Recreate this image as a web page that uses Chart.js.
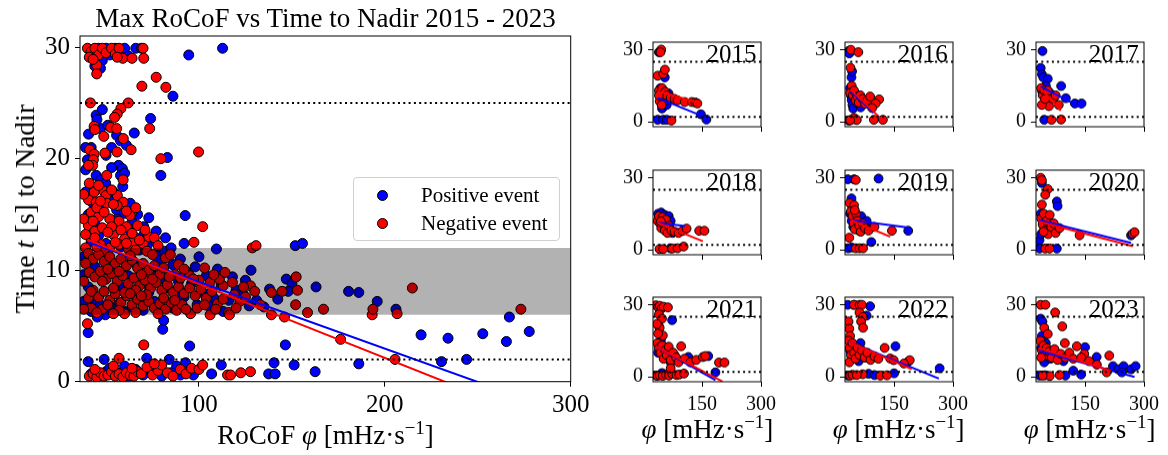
<!DOCTYPE html>
<html>
<head>
<meta charset="utf-8">
<script src="https://cdn.jsdelivr.net/npm/chart.js@4.4.1/dist/chart.umd.min.js"></script>
<style>
  body { margin: 0; background: #fff; width: 1168px; height: 455px; position: relative; overflow: hidden;
         font-family: "Liberation Serif", serif; color: #000; }
  canvas { position: absolute; }
  .lbl { position: absolute; white-space: nowrap; line-height: 1; }
  .legend { position: absolute; left: 353px; top: 177px; width: 205px; height: 62px; border: 1px solid #d0d0d0;
            border-radius: 4px; background: rgba(255,255,255,0.8); font-size: 21px; }
  .legend .row { position: absolute; left: 0; height: 24px; line-height: 24px; }
  .legend .dot { position: absolute; left: 23px; top: 7px; width: 9px; height: 9px; border: 1px solid #000; border-radius: 50%; }
  .legend .txt { position: absolute; left: 67px; top: 0; white-space: nowrap; }
</style>
</head>
<body>

<div class="lbl" id="title" style="left:80px;width:491px;text-align:center;top:5px;font-size:27px;">Max RoCoF vs Time to Nadir 2015 - 2023</div>
<div class="lbl" style="left:25px;top:209px;font-size:28px;transform:translate(-50%,-50%) rotate(-90deg);">Time <i>t</i> [s] to Nadir</div>
<div class="lbl" style="left:80px;width:491px;text-align:center;top:419px;font-size:27px;">RoCoF <i>φ</i> [mHz·s<sup style="font-size:0.7em;vertical-align:0.55em;">−1</sup>]</div>

<div class="legend">
  <div class="row" style="top:5px;width:100%;"><span class="dot" style="background:#0000ff"></span><span class="txt">Positive event</span></div>
  <div class="row" style="top:33px;width:100%;"><span class="dot" style="background:#ff0000"></span><span class="txt">Negative event</span></div>
</div>

<script>
// ---- main plot data (RoCoF mHz/s, time to nadir s) ----
const mainPos = [
  [41,29.8],[43,29.5],[46,29.9],[48,28.8],[50,29.9],[52,29.3],[55,29.9],[58,29.6],[60,29.9],[62,29.2],[66,29.9],[69,29.9],
  [94.5,29.3],[112.7,29.9],[44,28.3],[47,28.1],
  [86,25.6],[74,23.6],[65.2,22.3],[83,20.1],[79.5,18.5],[40.6,22.2],[44.7,23.9],[45.1,23.5],[47,22.7],[55.7,22.1],
  [57.8,21.6],[61,21.2],[40,19.9],[41.6,17.5],[56.8,19.4],[58.8,19.1],[57.8,18.5],[44.7,18.5],[47.2,18.1],[49.8,17.8],
  [59,17.5],[53,19.2],[50,20.3],[42,21],[48,24.4],[51,23],[53,21],[60,18.7],[39,17],[39,19],[39,21],
  [55.7,15.4],[59.8,15.1],[64,14.3],[70.3,13.9],[70.7,13.3],[75.8,12.6],[92.6,14.9],[40.5,15],[44,14.2],[48,15.8],
  [52,16.6],[56,14.6],[62,13.7],[66,12.9],[46,13.1],[50,12.4],[58,12.1],[68,11.8],[72,12.2],[78,11.5],[81.5,11.7],
  [109.4,11.9],[151.8,12.2],[155.7,12.4],[42,12.6],[43,16],[54,17],[63,16],[67,15],[73,14.7],[77,13.5],[82,12.9],
  [85,12],[92,12.4],[100,11.2],
  [40.5,8.5],[42,6.3],[44,7.2],[47,6.9],[49.6,6.0],[45.3,5.8],[53,6.6],[57,7.0],[60,6.3],[64,6.7],[67,7.5],[70,6.4],
  [73,8.0],[76,7.2],[80,9.2],[83,8.4],[86,6.6],[89,9.0],[92,7.6],[96,8.8],[99,6.9],[102,8.0],[104,9.5],[108,7.5],
  [112,8.6],[116,7.3],[120,8.2],[123.6,7.9],[127,6.8],[131,7.3],[135,6.7],[142.4,7.4],[147,9.2],[150,8.8],[148,8.1],
  [163,8.5],[180.5,8.1],[186,8.0],[195.9,7.2],[206,6.5],[86,10.5],[90,11.0],[94,9.8],[98,10.3],[110,10.1],[78,10.9],
  [74,10.0],[66,10.6],[62,9.5],[55,9.8],[50,10.9],[44,10.3],[70,8.8],[58,8.5],[38,11.2],[38,9.6],[38,7.2],
  [88,7.9],[105,6.8],[113,6.3],[118,9.4],[125,9.1],[138,8.3],[128,10],
  [40.4,4.4],[219.5,4.2],[234,3.9],[252.7,4.3],[265.4,3.6],[267,5.8],[277.7,4.5],[146.5,3.3],[95,3.2],[80.5,4.7],[81,5.5],
  [40.4,1.8],[49,2.0],[71.9,2.1],[84,2.0],[88,1.4],[92.8,1.7],[97,0.6],[106.8,0.7],[112,1.5],[137.5,0.7],[140.4,1.7],
  [141,0.7],[151.2,1.5],[162.5,0.9],[186,1.6],[230.5,1.8],[244,2.0],[42,0.7],[46,0.5],[50,0.9],[54,0.6],[58,0.8],
  [62,0.5],[66,1.1],[70,0.6],[75,0.9],[80,0.5],[85,0.8],[90,0.6],[60,1.4],[52,1.2]
];
const mainNeg = [
  [40,29.9],[42,29.6],[44,29.9],[46,29.3],[48,29.9],[50,29.5],[53,29.9],[55,29.4],[57,29.9],[59,29.0],[41,29.1],
  [45,28.4],[45,27.6],[43,28.9],[56,29.1],[64,29.0],[69.9,29.9],[70.3,29.0],[77,27.3],[82.2,26.4],[69.3,26.5],
  [41.6,25.0],[62,25.0],[58,24.5],[56,24.0],[54.6,23.7],[52.5,22.8],[55.7,22.7],[59.3,21.8],[48.8,22.0],[43.6,22.9],
  [44,22.6],[63.5,20.8],[55.9,20.6],[41.2,20.8],[43.6,20.4],[49.4,20.5],[43.2,19.9],[42.8,19.4],[40.6,19.4],
  [99.8,20.6],[79.5,20.0],[73.5,22.7],
  [50.4,18.5],[59.2,18.1],[48.7,17.1],[50,16.7],[43.6,17],[56.1,16.7],[40.6,16.3],[44.7,16.1],[50.4,16],[59.2,16.1],
  [64,15.2],[42,15.2],[46,14.8],[52,14.6],[57,14.4],[61,13.9],[67,14.0],[40.5,14.0],[44,13.5],[48,13.8],[54,13.2],
  [60,12.8],[65,12.6],[70,12.4],[102,13.9],[97.3,12.5],[128.7,12.0],[130.7,12.2],[42,12.8],[47,12.3],[52,12.0],
  [57,12.3],[62,11.9],[68,12.7],[73,13.0],[56,15.8],[39,13.2],[45,15.6],[63,14.9],[53,13.9],[49,15.2],
  [38,16.8],[41,17.8],[46,17.6],[53,17.2],[47,16.2],[54,15.9],[61,15.3],[66,15.6],[38,14.6],[43,14.4],[51,13.4],
  [58,13.6],[64,13.3],[71,13.6],[76,12.9],[39,12],[44,12.9],[49,11.8],[55,12.5],[61,12.4],[66,11.8],[72,11.7],
  [78,12.2],[82,11.1],
  [40.5,11.5],[43,11.0],[46,11.4],[49,10.8],[52,11.2],[55,10.6],[58,11.0],[61,10.4],[64,10.9],[67,10.2],[70,10.6],
  [73,10.0],[76,10.4],[79,9.6],[84.6,11.4],[89,10.5],[41,9.8],[44,9.4],[47,9.9],[50,9.2],[53,9.7],[56,9.0],[59,9.5],
  [62,8.8],[65,9.3],[68,8.6],[71,9.1],[74,8.4],[77,8.9],[80,8.2],[83,8.7],[86,8.0],[89,8.5],[92,7.9],[95,8.4],
  [98,7.7],[101,8.3],[104,7.5],[107,8.1],[110,7.0],[113,8.6],[116,6.2],[40.5,7.5],[43,8.2],[46,7.6],[49,8.1],
  [52,7.3],[55,7.9],[58,7.1],[61,7.7],[64,6.9],[67,7.4],[70,6.8],[73,7.2],[76,6.6],[79,7.0],[82,6.5],[85,7.1],
  [88,6.4],[91,6.9],[95.5,6.1],[106,6.0],[116.4,6.0],[139,6.0],[146,5.8],[127.7,8.6],[139,8.0],[144.7,8.1],
  [152.3,9.4],[153,8.2],[152,6.9],[158.4,6.2],[167,6.5],[193.2,6.0],[193.6,6.5],[206.6,6.1],[214.8,8.4],[273.2,6.5],
  [122,7.2],[119,7.8],[133,6.9],[100,9.1],[95,9.5],[106,8.9],[111,9.2],[48,6.5],[42,6.6],[60,6.1],[40,5.2],
  [39,10.6],[45,12.1],[51,10.1],[57,9.9],[63,11.3],[69,9.6],[75,11.4],[81,10.2],[54,8.4],[60,8.0],[66,8.2],[72,7.8],
  [87,9.6],[92,10.1],[97,9.2],[103,10.2],[108,9.6],[114,9.8],[118,8.9],[124,8.5],[38,9],[42,8.1],[48,9.0],[51,6.9],
  [57,6.4],[63,7.9],[69,7.7],[75,9.2],[81,7.5],[87,7.3],[93,6.5],[99,6.6],[103,6.9],[109,6.5],[113,7.4],[120,6.6],
  [125,7.6],[130,8.1],[38,6.5],[45,6.2],[54,6.1],[66,6.2],[78,6.1],[84,9.4],[90,9.3],
  [176.2,3.8],[205.5,2.0],[70.3,3.3],
  [57,2.1],[41,0.5],[43,0.7],[45,0.4],[47,0.8],[49,0.5],[51,0.6],[53,0.9],[55,0.5],[57,0.7],[59,0.4],[61,0.8],
  [63,0.6],[65,0.5],[67,0.9],[69,0.7],[72,1.3],[75,0.6],[78,1.0],[80,1.5],[83,0.8],[86,0.5],[90,1.1],[93,0.7],
  [96,1.2],[100,1.1],[102,1.5],[115.4,0.6],[117,0.6],[122.5,0.8],[127.7,0.9],[76,1.6],[64,1.2],[44,1.1],[54,1.4]
];
const mainPosFit = [[40.6,12.5],[278,-1.7]];
const mainNegFit = [[40.6,12.7],[273,-2.7]];

const refLines = [2, 25];
const bandRange = [6, 12];
const mainXRange = [36, 300];
const mainYRange = [0, 31];
const mainXTicks = [100, 200, 300];
const mainYTicks = [0, 10, 20, 30];

// ---- per-year data ----
const years = [2015, 2016, 2017, 2018, 2019, 2020, 2021, 2022, 2023];
const smallXRange = [25, 300];
const smallYRange = [-2.1, 33.2];
const smallXTicks = [150, 300];
const smallYTicks = [0, 30];

const pos2015 = [[40,29],[55,18.5],[42,12],[46,10],[50,8],[53,6.5],[48,5.5],[60,7],[64.5,11.8],[58,9],[44,14],[147,3.1],[161,0.9],[37,0.8],[51,0.8],[60,0.8]];
const neg2015 = [[46,30.1],[44,29],[37,19.2],[51,20],[55.3,21.7],[40,13],[44,11.5],[48,14],[52,9.5],[56,12.5],[42,8.5],[47,7],[60,11],[70,10],[80,9.5],[87.5,8.9],[106,8.2],[124,8.2],[133,8.0],[138,7.6],[72,0.5],[40,11]];
const pos2016 = [[34,29.5],[36,28.5],[41.5,18.5],[43,21],[38,14],[40,11],[42,9],[44,7],[46,5.5],[50,12],[55,8],[60,10],[65,6],[34,0.5],[40,0.7],[52,1.0]];
const neg2016 = [[40,30],[59,29],[39,22.5],[42,15],[38,12],[45,11],[48,13],[52,9],[56,10.5],[60,8],[64,11],[70,9.5],[76,7.5],[82,9],[89,10.5],[112,9.3],[103,7.6],[94,5.7],[121.5,0.8],[98.5,0.8],[48,1.5],[55,0.7],[38,0.6]];
const pos2017 = [[41.5,29.5],[37,22.4],[40,19.8],[43.5,18.5],[55,17.9],[89,14.9],[101,9.8],[124,7.6],[141,7.6],[40,13],[45,11],[50,15],[60,12],[70,10],[46,0.8]];
const neg2017 = [[38,14],[42,11],[46,13],[50,8],[54,12],[58,6.5],[62,10],[69,9.5],[75,11],[83,7],[40,7],[48,9.5],[64.5,0.8],[89,0.9],[55,13]];
const pos2018 = [[38,15],[42,14],[46,15.5],[50,13],[55,14.5],[60,12],[65,14],[58,11],[44,11],[70,12],[69,0.6],[75,7]];
const neg2018 = [[37,12],[40,14],[43,11],[46,9],[49,13.5],[52,10.5],[55,8],[58,12.5],[62,7],[66,10],[72,8],[80,7.5],[90,7],[100,7.8],[110.5,8.8],[142.6,7.9],[156,7.9],[41.5,0.3],[51,0.3],[73.7,0.5],[87.5,0.6],[103,1.3],[45,11.8]];
const pos2019 = [[32,29.4],[48,29.4],[110.5,29.7],[41.5,21.4],[43,18.2],[38,15],[42,12],[46,9.5],[50,13],[55,11],[60,8],[66,14],[72,10],[80,12],[88,9],[186,7.9],[92,3.2],[33,0.6],[42,0.9]];
const neg2019 = [[52.6,29.1],[37,19.5],[48,18.6],[40,16],[44,14],[47,11],[50,8.5],[53,15],[57,12],[61,10],[65,7.5],[70,11],[76,9],[85,8],[100,9.5],[144.5,7.9],[36,5],[52.6,0.6],[61.8,0.6],[71,0.6],[50,16.5]];
const pos2020 = [[40,27.8],[78,20.1],[80,18.2],[37,15],[42,12],[46,9],[50,14],[55,7],[60,11],[66,8.5],[72,10],[34,4],[38,6.5],[267,6],[34,0.5],[78,0.5],[44,13.5]];
const neg2020 = [[37,30],[40,29],[55,25.3],[48.5,22.9],[40,18.8],[38,13],[42,10.5],[45,15],[48,8],[52,12],[56,6.5],[60,14.5],[64,9.5],[70,11],[75,7],[85,9],[136,6],[271,6.7],[276,7.3],[48.5,0.5],[59.5,0.5],[44,7.5]];
const pos2021 = [[40,21],[45,15],[38,10],[50,12],[55,8],[62,11],[70,6],[73.7,23.6],[115,8.2],[165.6,8.6],[184,1.8],[80,9],[33,0.5],[60,0.9],[48,1.5]];
const neg2021 = [[33,29.8],[38,29],[42,29.6],[47,28.5],[52,29.2],[63,28.9],[40,26],[48,24.2],[42,20.4],[50,17.2],[35,22],[38,18],[36,14],[40,12],[44,10],[48,13],[52,7.5],[56,11],[60,9],[65,12.5],[70,7],[76,10],[84,8],[90,6],[96.7,12.7],[105,7.5],[120,6],[135,7],[152,8.2],[158,8.6],[193,5.9],[207,5.9],[36,0.4],[42,0.6],[50,0.4],[58,0.8],[66,0.5],[74,1.2],[85,0.7],[92,0.9],[104,1.3],[70,3.5]];
const pos2022 = [[32,30],[48,30],[89,29.4],[80,25.5],[64.5,14],[38,11],[42,8],[48,12.5],[55,9],[60,6.5],[70,10.5],[78,8],[153.6,12.7],[186,6.3],[266,3.5],[32,0.5],[85,1.2],[150,1.4],[100,0.7]];
const neg2022 = [[48,30],[62,30],[68,30],[62,26.8],[71,24.9],[66,23],[71,20.4],[34,23],[36,20],[38,17],[34,15],[37,12],[40,9],[36,6],[44,14],[48,10],[52,7.5],[57,12],[62,9],[68,11],[75,8],[82,10],[90,7],[100,8.5],[110,7.5],[126,12],[140,7.6],[149,6.9],[190,6.9],[175,5.5],[38,0.5],[44,0.8],[70,1.0],[115,0.5],[132,0.6],[55,0.7]];
const pos2023 = [[37,24.2],[41.5,23],[40,17],[38,12],[42,9],[46,6],[50,14],[55,10],[62,7.5],[70,11],[80,9],[95,6.5],[150,12.3],[179.5,8.2],[221,4.4],[234.5,3.1],[248,4.4],[267,3.1],[278.7,4.4],[243.6,1.8],[34,0.5],[48,0.6],[100,0.5],[140,0.9],[120,2.5]];
const neg2023 = [[37,30],[49,30],[73.7,26.8],[46,20.4],[55,17.8],[92,21],[98.5,14],[129,12.7],[147.8,9.5],[211.6,8.8],[205,1.8],[36,15],[40,11],[44,13],[48,9],[52,12],[58,10.5],[65,8],[72,11.5],[80,7],[88,9.5],[100,8],[110,10],[120,7.5],[140,8],[160,6.5],[180,5],[60,0.3],[42,0.5],[85,0.7],[38,8]];

// fit lines per year: [[x0,y0],[x1,y1]]
const posFits = [
  [[37,9.9],[147,2.6]], [[39,12.7],[98,3.7]], [[37,14.7],[142,5.7]],
  [[37,11.2],[106,9.9]], [[39,12.4],[186,9.2]], [[32,12.4],[267,2.8]],
  [[32,12.7],[184,-1.4]], [[34,14.6],[264,-0.8]], [[32,10.8],[276,-0.1]]
];
const negFits = [
  [[37,12.7],[142,7.9]], [[39,13.4],[117,1.2]], [[36,14],[88,4.6]],
  [[37,11.2],[152,3.5]], [[39,12.4],[140,5.4]], [[32,11.8],[271,1.5]],
  [[32,12.7],[202,-2]], [[34,14.6],[195,3.1]], [[32,12],[216,2.4]]
];

const posByYear = [pos2015, pos2016, pos2017, pos2018, pos2019, pos2020, pos2021, pos2022, pos2023];
const negByYear = [neg2015, neg2016, neg2017, neg2018, neg2019, neg2020, neg2021, neg2022, neg2023];

// ---- drawing ----
const FONT = "'Liberation Serif', serif";
const BLUE = '#0000ff', RED = '#ff0000';
const toPts = a => a.map(p => ({ x: p[0], y: p[1] }));

const framePlugin = {
  id: 'frame',
  afterDraw(chart) {
    const a = chart.chartArea, g = chart.ctx;
    g.save();
    g.strokeStyle = '#000';
    g.lineWidth = 1;
    g.strokeRect(a.left, a.top, a.right - a.left, a.bottom - a.top);
    g.restore();
  }
};

function scatterSet(data, color, r, order) {
  return { data: toPts(data), backgroundColor: color, borderColor: '#000', borderWidth: 1,
           pointRadius: r, order: order };
}
function lineSet(data, color, order) {
  return { data: toPts(data), showLine: true, borderColor: color, borderWidth: 2,
           pointRadius: 0, order: order };
}
function dotted(y, xr) {
  return { data: [{ x: xr[0], y: y }, { x: xr[1], y: y }], showLine: true, borderColor: '#000',
           borderWidth: 2, borderDash: [2, 3.3], pointRadius: 0, order: 0 };
}

function axes(xr, yr, xt, yt, yw, xh, size, showX, tickPad) {
  const grid = { drawOnChartArea: false, drawTicks: true, tickLength: 5, color: '#000', lineWidth: 1 };
  return {
    x: { type: 'linear', min: xr[0], max: xr[1], border: { display: false }, grid: grid,
         afterBuildTicks: s => { s.ticks = xt.map(v => ({ value: v })); },
         afterFit: s => { s.height = xh; },
         ticks: { color: '#000', font: { family: FONT, size: size }, padding: tickPad, maxRotation: 0,
                  autoSkip: false, callback: v => showX ? String(v) : '' } },
    y: { type: 'linear', min: yr[0], max: yr[1], border: { display: false }, grid: grid,
         afterBuildTicks: s => { s.ticks = yt.map(v => ({ value: v })); },
         afterFit: s => { s.width = yw; },
         ticks: { color: '#000', font: { family: FONT, size: size }, padding: 5, autoSkip: false,
                  callback: v => String(v) } }
  };
}

function makeCanvas(left, top, w, h) {
  const c = document.createElement('canvas');
  c.width = w; c.height = h;
  c.style.left = left + 'px'; c.style.top = top + 'px';
  c.style.width = w + 'px'; c.style.height = h + 'px';
  document.body.insertBefore(c, document.body.firstChild);
  return c;
}

function addLabel(html, css) {
  const d = document.createElement('div');
  d.className = 'lbl';
  d.innerHTML = html;
  d.style.cssText += css;
  document.body.appendChild(d);
}

// main chart: plot area 80..570.7 x 36..381.7
(function () {
  const c = makeCanvas(0, 0, 620, 455);
  const datasets = [
    scatterSet(mainPos, BLUE, 5, 5),
    scatterSet(mainNeg, RED, 5, 4),
    { data: [{ x: mainXRange[0], y: bandRange[1] }, { x: mainXRange[1], y: bandRange[1] }], showLine: true,
      borderWidth: 0, borderColor: 'rgba(0,0,0,0)', pointRadius: 0, fill: { value: bandRange[0] },
      backgroundColor: 'rgba(0,0,0,0.3)', order: 3 },
    lineSet(mainPosFit, BLUE, 2),
    lineSet(mainNegFit, RED, 1),
    dotted(refLines[0], mainXRange),
    dotted(refLines[1], mainXRange)
  ];
  new Chart(c.getContext('2d'), {
    type: 'scatter',
    data: { datasets: datasets },
    options: {
      animation: false, responsive: false, events: [],
      layout: { padding: { left: 30, top: 36, right: 49.3, bottom: 33.3 } },
      plugins: { legend: { display: false }, tooltip: { enabled: false } },
      scales: axes(mainXRange, mainYRange, mainXTicks, mainYTicks, 50, 40, 25, true, 4)
    },
    plugins: [framePlugin]
  });
})();

// small multiples
const smallLeft = [653.3, 844.6, 1035.5];
const smallTop = [35, 163.3, 290];
const SW = 108.2, SH = 91.7;

years.forEach((yr, i) => {
  const col = i % 3, row = Math.floor(i / 3);
  const L = smallLeft[col], T = smallTop[row];
  const c = makeCanvas(L - 50, T - 10, SW + 50 + 22, SH + 10 + 36 + 8);
  const datasets = [
    scatterSet(posByYear[i], BLUE, 4.4, 5),
    scatterSet(negByYear[i], RED, 4.4, 4),
    lineSet(posFits[i], BLUE, 2),
    lineSet(negFits[i], RED, 1),
    dotted(refLines[0], smallXRange),
    dotted(refLines[1], smallXRange)
  ];
  new Chart(c.getContext('2d'), {
    type: 'scatter',
    data: { datasets: datasets },
    options: {
      animation: false, responsive: false, events: [],
      layout: { padding: { left: 8, top: 10, right: 22, bottom: 8 } },
      plugins: { legend: { display: false }, tooltip: { enabled: false } },
      scales: axes(smallXRange, smallYRange, smallXTicks, smallYTicks, 42, 36, 20, row === 2, 6)
    },
    plugins: [framePlugin]
  });
  addLabel(String(yr), 'left:' + (L + SW - 5) + 'px;top:' + (T + 5.5) + 'px;font-size:25px;transform:translateX(-100%);');
  if (row === 2) {
    addLabel('<i>φ</i> [mHz·s<sup style="font-size:0.7em;vertical-align:0.55em;">−1</sup>]',
             'left:' + (L + SW / 2) + 'px;top:413px;font-size:27px;transform:translateX(-50%);');
  }
});
</script>
</body>
</html>
